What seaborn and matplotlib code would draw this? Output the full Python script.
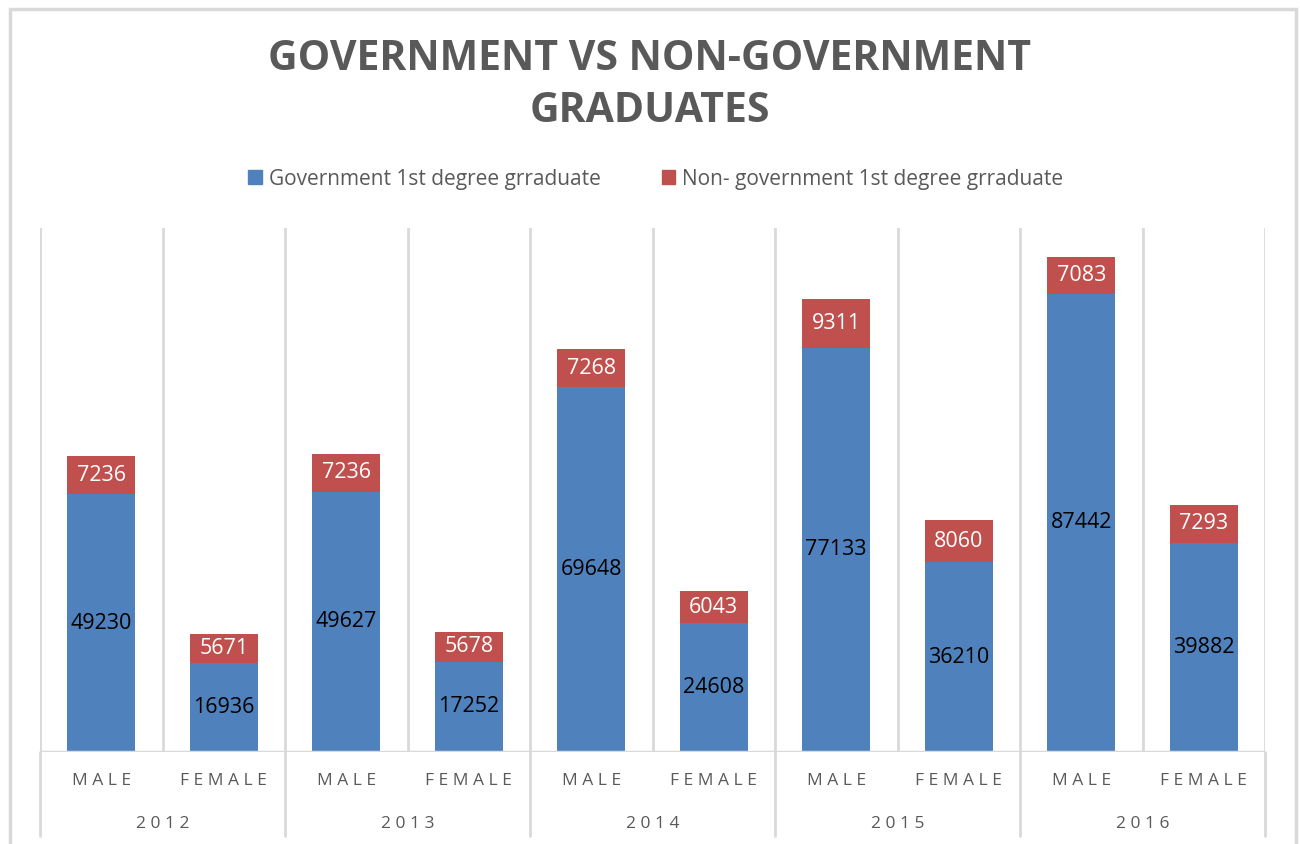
import matplotlib
matplotlib.use("Agg")
import matplotlib.pyplot as plt
import seaborn as sns
import pandas as pd
import numpy as np
from matplotlib.patches import Rectangle, Patch

years = ["2012", "2013", "2014", "2015", "2016"]
genders = ["MALE", "FEMALE"]
gov = [49230, 16936, 49627, 17252, 69648, 24608, 77133, 36210, 87442, 39882]
nongov = [7236, 5671, 7236, 5678, 7268, 6043, 9311, 8060, 7083, 7293]

keys = [f"{y}-{g}" for y in years for g in genders]
df = pd.DataFrame({"key": keys, "gov": gov, "nongov": nongov})

BLUE = "#4F81BD"
RED = "#C0504D"
GRAY = "#595959"
GRID = "#D9D9D9"

sns.set_style("white")
plt.rcParams["font.family"] = ["Open Sans", "DejaVu Sans"]

fig = plt.figure(figsize=(13, 8.44), dpi=100)
ax = fig.add_axes([40/1300, 1-752/844, (1265-40)/1300, (752-228)/844])

sns.barplot(data=df, x="key", y="gov", color=BLUE, width=0.555, ax=ax,
            saturation=1, linewidth=0, order=keys)
sns.barplot(data=df, x="key", y="nongov", color=RED, width=0.555, ax=ax,
            saturation=1, linewidth=0, order=keys, bottom=df["gov"].values)

ax.set_ylim(0, 100000)
ax.set_xlim(-0.5, len(keys)-0.5)
ax.set_xlabel("")
ax.set_ylabel("")
ax.set_yticks([])
ax.set_xticks([])
for s in ax.spines.values():
    s.set_visible(False)

# vertical separators inside plot
for i in range(len(keys)+1):
    ax.axvline(i-0.5, color=GRID, lw=2, zorder=0)
ax.axhline(0, color=GRID, lw=2.5, zorder=3)

# data labels
for i, (g, n) in enumerate(zip(gov, nongov)):
    ax.text(i, g/2, str(g), ha="center", va="center", fontsize=15.5,
            color="black")
    ax.text(i, g + n/2, str(n), ha="center", va="center", fontsize=15.5,
            color="white")

trans = ax.get_xaxis_transform()
def spaced(s):
    return " ".join(s)
for i, k in enumerate(keys):
    g = k.split("-")[1]
    ax.text(i, -(781-752)/524, spaced(g), transform=trans, ha="center", va="center",
            fontsize=12.5, color=GRAY, clip_on=False)
for j, y in enumerate(years):
    ax.text(2*j+0.5, -(824-752)/524, spaced(y), transform=trans, ha="center",
            va="center", fontsize=12.5, color=GRAY, clip_on=False)
# year separator lines extending below the axis
for j in range(len(years)+1):
    ax.plot([2*j-0.5, 2*j-0.5], [0, -(836-752)/524], transform=trans,
            color=GRID, lw=2, clip_on=False)

# outer border
fig.add_artist(Rectangle((10/1300, -0.01), (1296-10)/1300, 1-9/844+0.01,
                         transform=fig.transFigure, fill=False,
                         edgecolor=GRID, lw=2.5))

fig.text(0.5, 1-60/844, "GOVERNMENT VS NON-GOVERNMENT", ha="center", va="center",
         fontsize=29.5, fontweight="bold", color=GRAY)
fig.text(0.5, 1-112/844, "GRADUATES", ha="center", va="center",
         fontsize=29.5, fontweight="bold", color=GRAY)

handles = [Patch(color=BLUE, label="Government 1st degree grraduate"),
           Patch(color=RED, label="Non- government 1st degree grraduate")]
leg = fig.legend(handles=handles, loc="center", bbox_to_anchor=(656/1300, 1-179/844),
                 ncol=2, frameon=False, fontsize=15, handlelength=0.65,
                 handleheight=0.65, handletextpad=0.35, columnspacing=2.9,
                 labelcolor=GRAY)

fig.savefig("out.png", dpi=100)
